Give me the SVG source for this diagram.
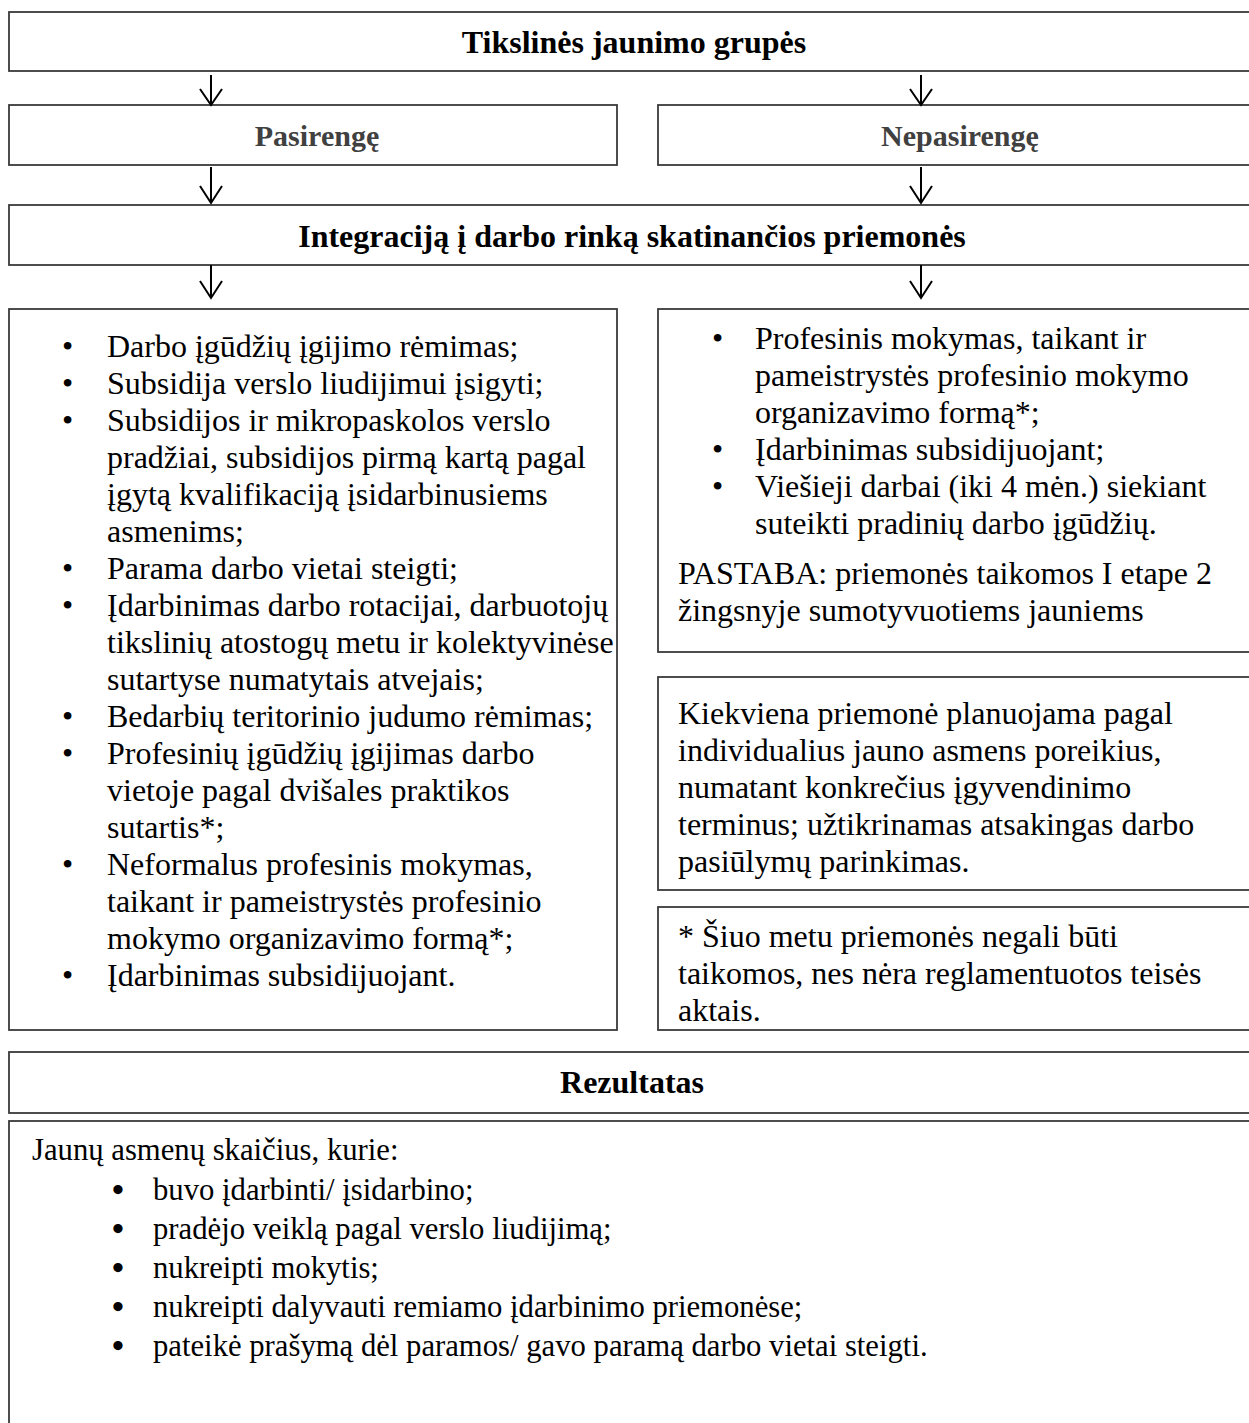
<svg xmlns="http://www.w3.org/2000/svg" width="1249" height="1423" viewBox="0 0 1249 1423">
<defs>
<style>
.box{fill:#fff;stroke:#3a3a3a;stroke-width:1.8}
.t{font-family:"Liberation Serif","Times New Roman",serif;font-size:32px;fill:#000}
.r{font-family:"Liberation Serif","Times New Roman",serif;font-size:30.7px;fill:#000}
.bl{font-family:"Liberation Serif","Times New Roman",serif;font-size:34px;fill:#000;font-weight:bold}
.b{font-family:"Liberation Serif","Times New Roman",serif;font-size:32px;font-weight:bold;fill:#000;text-anchor:middle}
.g{font-family:"Liberation Serif","Times New Roman",serif;font-size:30px;font-weight:bold;fill:#404040;text-anchor:middle}
.arr{stroke:#000;stroke-width:2;fill:none}
</style>
</defs>
<rect width="1249" height="1423" fill="#fff"/>
<g id="top">
<rect class="box" x="9" y="12" width="1260" height="59"/>
<text class="b" x="634" y="53">Tikslinės jaunimo grupės</text>
</g>
<g id="pasirenge">
<rect class="box" x="9" y="105" width="608" height="60"/>
<text class="g" x="317" y="146">Pasirengę</text>
</g>
<g id="nepasirenge">
<rect class="box" x="658" y="105" width="611" height="60"/>
<text class="g" x="960" y="146">Nepasirengę</text>
</g>
<g id="integracija">
<rect class="box" x="9" y="205" width="1260" height="60"/>
<text class="b" x="632" y="247">Integraciją į darbo rinką skatinančios priemonės</text>
</g>
<g id="left-measures">
<rect class="box" x="9" y="309" width="608" height="721"/>
<g class="t">
<text x="62" y="357">•</text><text x="107" y="357">Darbo įgūdžių įgijimo rėmimas;</text>
<text x="62" y="394">•</text><text x="107" y="394">Subsidija verslo liudijimui įsigyti;</text>
<text x="62" y="431">•</text><text x="107" y="431">Subsidijos ir mikropaskolos verslo</text>
<text x="107" y="468">pradžiai, subsidijos pirmą kartą pagal</text>
<text x="107" y="505">įgytą kvalifikaciją įsidarbinusiems</text>
<text x="107" y="542">asmenims;</text>
<text x="62" y="579">•</text><text x="107" y="579">Parama darbo vietai steigti;</text>
<text x="62" y="616">•</text><text x="107" y="616">Įdarbinimas darbo rotacijai, darbuotojų</text>
<text x="107" y="653">tikslinių atostogų metu ir kolektyvinėse</text>
<text x="107" y="690">sutartyse numatytais atvejais;</text>
<text x="62" y="727">•</text><text x="107" y="727">Bedarbių teritorinio judumo rėmimas;</text>
<text x="62" y="764">•</text><text x="107" y="764">Profesinių įgūdžių įgijimas darbo</text>
<text x="107" y="801">vietoje pagal dvišales praktikos</text>
<text x="107" y="838">sutartis*;</text>
<text x="62" y="875">•</text><text x="107" y="875">Neformalus profesinis mokymas,</text>
<text x="107" y="912">taikant ir pameistrystės profesinio</text>
<text x="107" y="949">mokymo organizavimo formą*;</text>
<text x="62" y="986">•</text><text x="107" y="986">Įdarbinimas subsidijuojant.</text>
</g>
</g>
<g id="right-measures">
<rect class="box" x="658" y="309" width="611" height="343"/>
<g class="t">
<text x="712" y="349">•</text><text x="755" y="349">Profesinis mokymas, taikant ir</text>
<text x="755" y="386">pameistrystės profesinio mokymo</text>
<text x="755" y="423">organizavimo formą*;</text>
<text x="712" y="460">•</text><text x="755" y="460">Įdarbinimas subsidijuojant;</text>
<text x="712" y="497">•</text><text x="755" y="497">Viešieji darbai (iki 4 mėn.) siekiant</text>
<text x="755" y="534">suteikti pradinių darbo įgūdžių.</text>
<text x="678" y="584">PASTABA: priemonės taikomos I etape 2</text>
<text x="678" y="621">žingsnyje sumotyvuotiems jauniems</text>
</g>
</g>
<g id="planning-note">
<rect class="box" x="658" y="677" width="611" height="213"/>
<g class="t">
<text x="678" y="724">Kiekviena priemonė planuojama pagal</text>
<text x="678" y="761">individualius jauno asmens poreikius,</text>
<text x="678" y="798">numatant konkrečius įgyvendinimo</text>
<text x="678" y="835">terminus; užtikrinamas atsakingas darbo</text>
<text x="678" y="872">pasiūlymų parinkimas.</text>
</g>
</g>
<g id="footnote">
<rect class="box" x="658" y="907" width="611" height="123"/>
<g class="t">
<text x="678" y="947">* Šiuo metu priemonės negali būti</text>
<text x="678" y="984">taikomos, nes nėra reglamentuotos teisės</text>
<text x="678" y="1021">aktais.</text>
</g>
</g>
<g id="rezultatas">
<rect class="box" x="9" y="1052" width="1260" height="61"/>
<text class="b" x="632" y="1093">Rezultatas</text>
</g>
<g id="result-list">
<rect class="box" x="9" y="1121" width="1260" height="320"/>
<g class="r">
<text x="32" y="1160">Jaunų asmenų skaičius, kurie:</text>
<text x="153" y="1200">buvo įdarbinti/ įsidarbino;</text>
<text x="153" y="1239">pradėjo veiklą pagal verslo liudijimą;</text>
<text x="153" y="1278">nukreipti mokytis;</text>
<text x="153" y="1317">nukreipti dalyvauti remiamo įdarbinimo priemonėse;</text>
<text x="153" y="1356">pateikė prašymą dėl paramos/ gavo paramą darbo vietai steigti.</text>
</g>
<g class="bl">
<text x="112" y="1201">•</text>
<text x="112" y="1240">•</text>
<text x="112" y="1279">•</text>
<text x="112" y="1318">•</text>
<text x="112" y="1357">•</text>
</g>
</g>
<g id="connectors" class="arr">
<path d="M211 75V105M200 89L211 105L222 89"/>
<path d="M921 75V105M910 89L921 105L932 89"/>
<path d="M211 167V203M200 186L211 203L222 186"/>
<path d="M921 167V203M910 186L921 203L932 186"/>
<path d="M211 265V298M200 281L211 298L222 281"/>
<path d="M921 265V298M910 281L921 298L932 281"/>
</g>
</svg>
